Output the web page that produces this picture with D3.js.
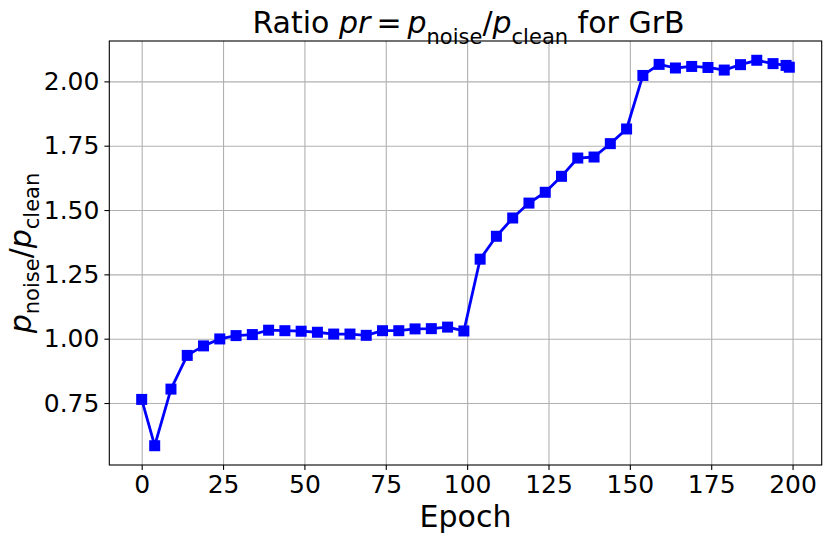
<!DOCTYPE html>
<html>
<head>
<meta charset="utf-8">
<script src="https://cdn.jsdelivr.net/npm/d3@7"></script>
<style>
  html, body { margin: 0; padding: 0; background: #fff; }
  svg { display: block; font-family: "DejaVu Sans", sans-serif; }
</style>
</head>
<body>
<div id="chart"></div>
<script>
// epochs sampled during training and the measured ratio p_noise / p_clean
const EPOCHS = [0, 4, 9, 14, 19, 24, 29, 34, 39, 44, 49, 54, 59, 64, 69, 74, 79, 84, 89, 94,
                99, 104, 109, 114, 119, 124, 129, 134, 139, 144, 149, 154, 159, 164, 169, 174,
                179, 184, 189, 194, 198, 199];
const RATIO = [0.764, 0.584, 0.804, 0.935, 0.972, 0.999, 1.012, 1.016, 1.033, 1.031, 1.029,
               1.025, 1.018, 1.018, 1.013, 1.031, 1.031, 1.038, 1.039, 1.045, 1.030,
               1.309, 1.398, 1.469, 1.527, 1.569, 1.631, 1.702, 1.706, 1.758, 1.815,
               2.023, 2.066, 2.052, 2.058, 2.054, 2.044, 2.065, 2.082, 2.069, 2.062, 2.055];
const X_TICKS = [0, 25, 50, 75, 100, 125, 150, 175, 200];
const Y_TICKS = [0.75, 1.00, 1.25, 1.50, 1.75, 2.00];

const data = EPOCHS.map((e, i) => ({ epoch: e, ratio: RATIO[i] }));

/* ── Layout ── */
const totalW = 831, totalH = 543;
const margin = { top: 41, right: 9.3, bottom: 78, left: 109.3 };
const W = totalW - margin.left - margin.right;
const H = totalH - margin.top - margin.bottom;

const svg = d3.select("#chart").append("svg")
  .attr("width", totalW).attr("height", totalH);

const g = svg.append("g").attr("transform", `translate(${margin.left},${margin.top})`);

/* ── Scales (matplotlib style 5% padding) ── */
const pad = (ext) => { const r = ext[1] - ext[0]; return [ext[0] - 0.05 * r, ext[1] + 0.05 * r]; };
const x = d3.scaleLinear().domain(pad(d3.extent(EPOCHS))).range([0, W]);
const y = d3.scaleLinear().domain(pad(d3.extent(RATIO))).range([H, 0]);

/* ── Grid ── */
g.append("g")
  .call(d3.axisLeft(y).tickValues(Y_TICKS).tickSize(-W).tickFormat(""))
  .call(ax => { ax.select(".domain").remove(); ax.selectAll("line").attr("stroke", "#b0b0b0").attr("stroke-width", 1.1); });
g.append("g").attr("transform", `translate(0,${H})`)
  .call(d3.axisBottom(x).tickValues(X_TICKS).tickSize(-H).tickFormat(""))
  .call(ax => { ax.select(".domain").remove(); ax.selectAll("line").attr("stroke", "#b0b0b0").attr("stroke-width", 1.1); });

/* ── Line + markers ── */
g.append("path").datum(data)
  .attr("fill", "none").attr("stroke", "#0000ff").attr("stroke-width", 2.8)
  .attr("stroke-linejoin", "round")
  .attr("d", d3.line().x(d => x(d.epoch)).y(d => y(d.ratio)));

const ms = 11;
g.selectAll("rect.mk").data(data).join("rect")
  .attr("class", "mk")
  .attr("x", d => x(d.epoch) - ms / 2).attr("y", d => y(d.ratio) - ms / 2)
  .attr("width", ms).attr("height", ms)
  .attr("fill", "#0000ff");

/* ── Frame ── */
g.append("rect").attr("width", W).attr("height", H)
  .attr("fill", "none").attr("stroke", "#000").attr("stroke-width", 1.1);

/* ── Axes ── */
g.append("g").attr("transform", `translate(0,${H})`)
  .call(d3.axisBottom(x).tickValues(X_TICKS).tickSize(4.9).tickPadding(5).tickFormat(d3.format("d")))
  .call(ax => { ax.select(".domain").remove(); ax.selectAll("line").attr("stroke", "#000").attr("stroke-width", 1.1); })
  .selectAll("text").attr("font-size", 25).attr("fill", "#000").attr("font-family", "DejaVu Sans");

g.append("g")
  .call(d3.axisLeft(y).tickValues(Y_TICKS).tickSize(4.9).tickPadding(5).tickFormat(d3.format(".2f")))
  .call(ax => { ax.select(".domain").remove(); ax.selectAll("line").attr("stroke", "#000").attr("stroke-width", 1.1); })
  .selectAll("text").attr("font-size", 25).attr("fill", "#000").attr("font-family", "DejaVu Sans");

/* ── math-ish text helper: p_noise / p_clean ── */
function pRatio(t, sub) {
  t.append("tspan").attr("font-style", "italic").text("p");
  t.append("tspan").attr("font-size", "0.7em").attr("dy", sub + "em").text("noise");
  t.append("tspan").attr("dy", (-sub * 0.7) + "em").text("/");
  t.append("tspan").attr("font-style", "italic").text("p");
  t.append("tspan").attr("font-size", "0.7em").attr("dy", sub + "em").text("clean");
}

/* ── Title ── */
const title = svg.append("text")
  .attr("x", margin.left + W / 2 + 3).attr("y", 33)
  .attr("text-anchor", "middle").attr("font-size", 30).attr("fill", "#000");
title.append("tspan").text("Ratio ");
title.append("tspan").attr("font-style", "italic").text("pr");
title.append("tspan").text("\u2009=\u2009");
pRatio(title, 0.5);
title.append("tspan").attr("font-size", "30px").attr("dy", "-0.35em").text(" for GrB");

/* ── Axis labels ── */
svg.append("text")
  .attr("x", margin.left + W / 2).attr("y", 527)
  .attr("text-anchor", "middle").attr("font-size", 30).attr("fill", "#000")
  .text("Epoch");

const yl = svg.append("text")
  .attr("transform", `translate(31,${margin.top + H / 2}) rotate(-90)`)
  .attr("text-anchor", "middle").attr("font-size", 30).attr("fill", "#000");
pRatio(yl, 0.38);
</script>
</body>
</html>
